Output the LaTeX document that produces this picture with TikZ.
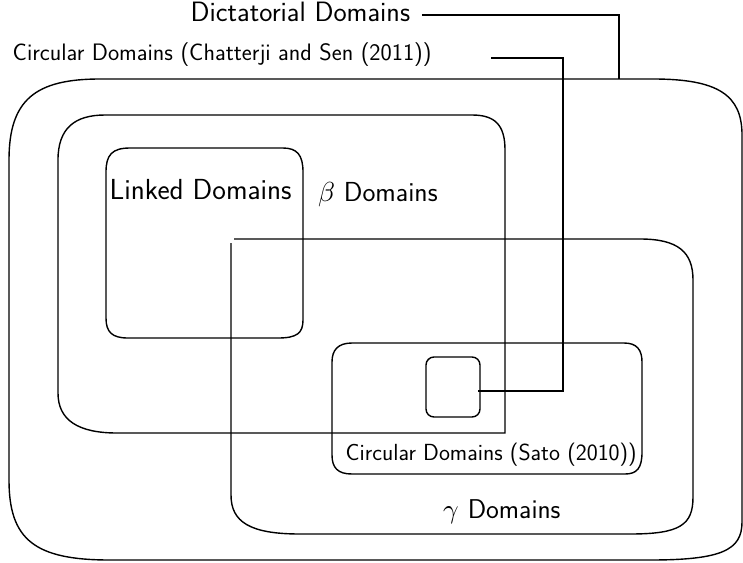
\documentclass[tikz,border=0pt]{standalone}
\usepackage{unicode-math}
\usetikzlibrary{calc}

\begin{document}
\begin{tikzpicture}[x=1pt,y=-1pt,line width=1.4pt,
    lbl/.style={font=\sffamily\fontsize{#1}{#1}\selectfont,inner sep=0pt,anchor=base west}]
  \useasboundingbox (0,0) rectangle (743,562);

  % outer set (dictatorial domains)
  \draw (100,79) -- (653,79) .. controls (718,79) and (742,95) .. (742,135)
    -- (742,522) .. controls (742,550) and (722,560) .. (650,560)
    -- (110,560) .. controls (35,560) and (9,540) .. (9,480)
    -- (9,160) .. controls (9,100) and (35,79) .. (100,79) -- cycle;
  % beta domains
  \draw (505,433) -- (117,433) .. controls (78,433) and (58,420) .. (58,393)
    -- (58,160) .. controls (58,128) and (75,115) .. (105,115)
    -- (472,115) .. controls (495,115) and (505,125) .. (505,150) -- cycle;
  % linked domains
  \draw (130,148) -- (283,148) .. controls (297,148) and (303,155) .. (303,172)
    -- (303,320) .. controls (303,333) and (297,338) .. (278,338)
    -- (128,338) .. controls (112,338) and (106,332) .. (106,318)
    -- (106,172) .. controls (106,155) and (112,148) .. (130,148) -- cycle;
  % gamma domains
  \draw (234,239) -- (640,239) .. controls (678,239) and (693,252) .. (693,280)
    -- (693,497) .. controls (693,525) and (680,534) .. (630,534)
    -- (300,534) .. controls (250,534) and (231,522) .. (231,495) -- (231,243);
  % circular domains (sato)
  \draw (352,343) -- (624,343) .. controls (637,343) and (642,350) .. (642,362)
    -- (642,452) .. controls (642,468) and (637,474) .. (625,474)
    -- (352,474) .. controls (338,474) and (332,468) .. (332,455)
    -- (332,362) .. controls (332,350) and (338,343) .. (352,343) -- cycle;
  \node[draw,rounded corners=8pt,minimum width=54pt,minimum height=60pt,inner sep=0pt] (sq) at (453,387) {};

  \node[lbl=28] (dict) at (190,21) {Dictatorial Domains};
  \node[lbl=23.8] (chat) at (12,60) {Circular Domains (Chatterji and Sen (2011))};
  \node[lbl=29] (linked) at (109,199) {Linked Domains};
  \node[lbl=27.5] (beta) at (318,201) {$\beta$ Domains};
  \node[lbl=23.3] (sato) at (345,460) {Circular Domains (Sato (2010))};
  \node[lbl=27.2] (gamma) at (443,518) {$\gamma$ Domains};

  \coordinate (dtop) at (619,79);
  \coordinate (cturn) at (563,391);
  \draw (dict.base east) ++(11,-6) -| (dtop);
  \draw (chat.base east) ++(59,-2) -| (cturn) -- ([xshift=-3pt,yshift=-4pt]sq.east);
\end{tikzpicture}
\end{document}
